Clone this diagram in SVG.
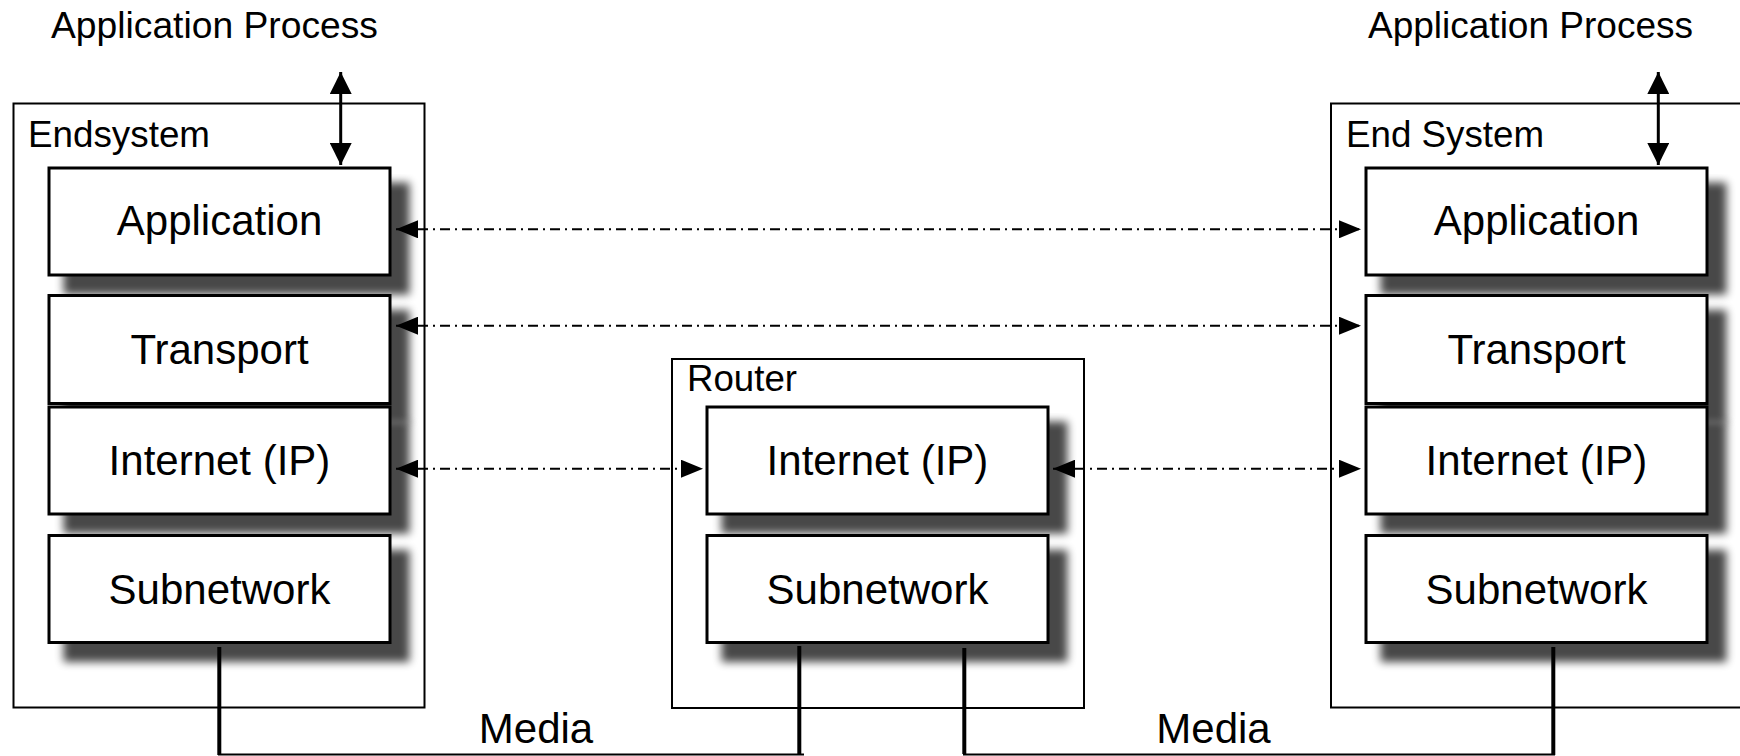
<svg xmlns="http://www.w3.org/2000/svg" width="1740" height="756" viewBox="0 0 1740 756">
<defs>
<style>
text{font-family:"Liberation Sans",Arial,Helvetica,sans-serif;fill:#000}
.lbl{font-size:36px}
.big{font-size:42px;text-anchor:middle}
.outer{fill:none;stroke:#000;stroke-width:2}
.layer{fill:#fff;stroke:#000;stroke-width:3;filter:url(#sh)}
.dd{fill:none;stroke:#000;stroke-width:2;stroke-dasharray:10 5 2 5;marker-start:url(#ah);marker-end:url(#ah)}
.va{fill:none;stroke:#000;stroke-width:3;marker-start:url(#ahv);marker-end:url(#ahv)}
.med{fill:none;stroke:#000;stroke-width:2}
.medv{fill:none;stroke:#000;stroke-width:4}
</style>
<filter id="sh" x="-10%" y="-10%" width="130%" height="160%">
<feMorphology in="SourceAlpha" operator="dilate" radius="1"/>
<feGaussianBlur stdDeviation="4"/>
<feOffset dx="17" dy="17" result="o"/>
<feComponentTransfer><feFuncA type="linear" slope="0.72"/></feComponentTransfer>
<feMerge><feMergeNode/><feMergeNode in="SourceGraphic"/></feMerge>
</filter>
<marker id="ah" viewBox="0 0 22 18" refX="22" refY="9" markerWidth="22" markerHeight="18" markerUnits="userSpaceOnUse" orient="auto-start-reverse"><path d="M0,0 L22,9 L0,18 z" fill="#000"/></marker>
<marker id="ahv" viewBox="0 0 22 22" refX="22" refY="11" markerWidth="22" markerHeight="22" markerUnits="userSpaceOnUse" orient="auto-start-reverse"><path d="M0,0 L22,11 L0,22 z" fill="#000"/></marker>
</defs>
<rect width="1740" height="756" fill="#fff"/>

<g id="endsystem-left">
<rect class="outer" x="13.5" y="103.5" width="411" height="604"/>
<text class="lbl" x="28" y="147" textLength="182" lengthAdjust="spacingAndGlyphs">Endsystem</text>
</g>
<g id="left-application"><rect class="layer" x="49" y="168" width="341" height="107"/><text class="big" x="219.5" y="235">Application</text></g>
<g id="left-transport"><rect class="layer" x="49" y="295.5" width="341" height="108"/><text class="big" x="219.5" y="364">Transport</text></g>
<g id="left-internet"><rect class="layer" x="49" y="407" width="341" height="107"/><text class="big" x="219.5" y="475">Internet (IP)</text></g>
<g id="left-subnetwork"><rect class="layer" x="49" y="535.5" width="341" height="107"/><text class="big" x="219.5" y="604">Subnetwork</text></g>

<g id="router">
<rect class="outer" x="672" y="359" width="412" height="349"/>
<text class="lbl" x="687" y="391" textLength="110" lengthAdjust="spacingAndGlyphs">Router</text>
</g>
<g id="router-internet"><rect class="layer" x="707" y="407" width="341" height="107"/><text class="big" x="877.5" y="475">Internet (IP)</text></g>
<g id="router-subnetwork"><rect class="layer" x="707" y="535.5" width="341" height="107"/><text class="big" x="877.5" y="604">Subnetwork</text></g>

<g id="endsystem-right">
<rect class="outer" x="1331" y="103.5" width="412" height="604"/>
<text class="lbl" x="1346" y="147" textLength="198" lengthAdjust="spacingAndGlyphs">End System</text>
</g>
<g id="right-application"><rect class="layer" x="1366" y="168" width="341" height="107"/><text class="big" x="1536.5" y="235">Application</text></g>
<g id="right-transport"><rect class="layer" x="1366" y="295.5" width="341" height="108"/><text class="big" x="1536.5" y="364">Transport</text></g>
<g id="right-internet"><rect class="layer" x="1366" y="407" width="341" height="107"/><text class="big" x="1536.5" y="475">Internet (IP)</text></g>
<g id="right-subnetwork"><rect class="layer" x="1366" y="535.5" width="341" height="107"/><text class="big" x="1536.5" y="604">Subnetwork</text></g>

<g id="app-process-left"><text class="lbl" x="51" y="38" textLength="327" lengthAdjust="spacingAndGlyphs">Application Process</text></g>
<g id="app-process-right"><text class="lbl" x="1368" y="38" textLength="325" lengthAdjust="spacingAndGlyphs">Application Process</text></g>

<g id="connectors">
<path class="va" d="M340.7,72 L340.7,165"/>
<path class="va" d="M1658.3,72 L1658.3,165"/>
<path class="dd" d="M396,229.3 L1361,229.3"/>
<path class="dd" d="M396,325.7 L1361,325.7"/>
<path class="dd" d="M396,468.7 L703,468.7"/>
<path class="dd" d="M1053,468.7 L1361,468.7"/>
<path class="medv" d="M219.3,647 L219.3,755"/>
<path class="medv" d="M799.3,646 L799.3,754"/>
<path class="med" d="M218,754.5 L804,754.5"/>
<path class="medv" d="M964.3,648 L964.3,754"/>
<path class="medv" d="M1553.3,647 L1553.3,755"/>
<path class="med" d="M963,754.5 L1555,754.5"/>
</g>
<g id="media-labels">
<text class="big" x="536" y="743">Media</text>
<text class="big" x="1213.5" y="743">Media</text>
</g>
</svg>
